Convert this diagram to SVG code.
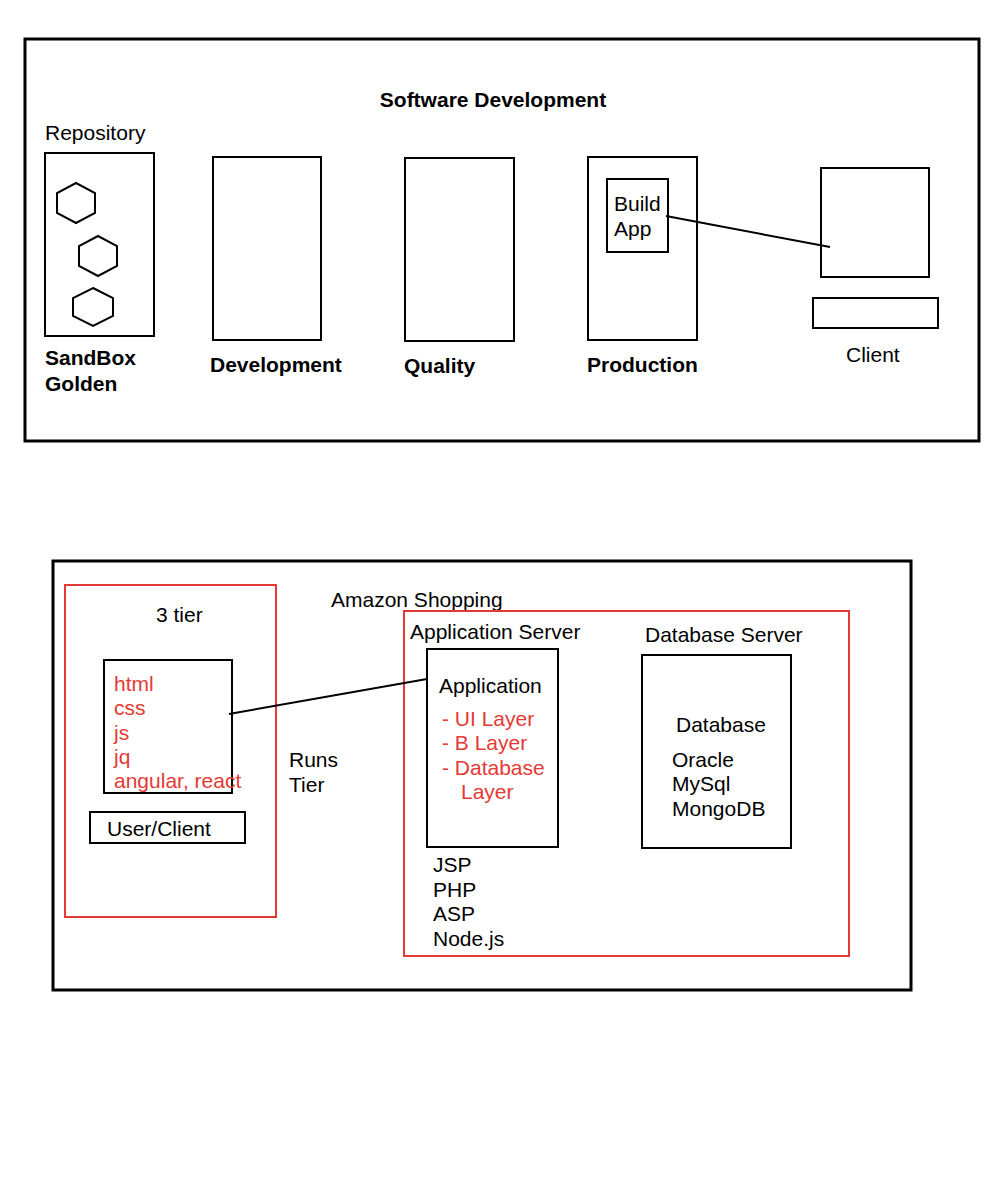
<svg xmlns="http://www.w3.org/2000/svg" width="1000" height="1184" viewBox="0 0 1000 1184">
<style>
text{font-family:"Liberation Sans",Arial,sans-serif;font-size:21px;fill:#000}
.b{font-weight:bold}
.r{fill:#e53935}
.box{fill:none;stroke:#000;stroke-width:2}
.frame{fill:none;stroke:#000;stroke-width:3}
.red{fill:none;stroke:#e53935;stroke-width:2}
.conn{stroke:#000;stroke-width:2;fill:none}
</style>
<rect width="1000" height="1184" fill="#fff"/>
<g id="frame-top">
<rect class="frame" x="25" y="39" width="954" height="402"/>
<text class="b" x="493" y="107" text-anchor="middle">Software Development</text>
</g>
<g id="repository">
<text x="45" y="140">Repository</text>
<rect class="box" x="45" y="153" width="109" height="183"/>
<polygon class="box" points="76,183 95,193 95,213 76,223 57,213 57,193"/>
<polygon class="box" points="98,236 117,246 117,266 98,276 79,266 79,246"/>
<polygon class="box" points="93,288 113,298 113,316 93,326 73,316 73,298"/>
<text class="b" x="45" y="365">SandBox</text>
<text class="b" x="45" y="391">Golden</text>
</g>
<g id="development">
<rect class="box" x="213" y="157" width="108" height="183"/>
<text class="b" x="210" y="372">Development</text>
</g>
<g id="quality">
<rect class="box" x="405" y="158" width="109" height="183"/>
<text class="b" x="404" y="373">Quality</text>
</g>
<g id="production">
<rect class="box" x="588" y="157" width="109" height="183"/>
<text class="b" x="587" y="372">Production</text>
</g>
<g id="build-app">
<rect class="box" x="607" y="179" width="61" height="73"/>
<text x="614" y="211">Build</text>
<text x="614" y="236">App</text>
</g>
<g id="client">
<rect class="box" x="821" y="168" width="108" height="109"/>
<rect class="box" x="813" y="298" width="125" height="30"/>
<text x="846" y="362">Client</text>
</g>
<g id="frame-bottom">
<rect class="frame" x="53" y="561" width="858" height="429"/>
<text x="331" y="607">Amazon Shopping</text>
</g>
<g id="tier-client">
<rect class="red" x="65" y="585" width="211" height="332"/>
<text x="156" y="622">3 tier</text>
</g>
<g id="frontend">
<rect class="box" x="104" y="660" width="128" height="133"/>
<text class="r" x="114" y="691">html</text>
<text class="r" x="114" y="715">css</text>
<text class="r" x="114" y="740">js</text>
<text class="r" x="114" y="764">jq</text>
<text class="r" x="114" y="788">angular, react</text>
</g>
<g id="user-client">
<rect class="box" x="90" y="812" width="155" height="31"/>
<text x="107" y="836">User/Client</text>
</g>
<g id="runs-tier">
<text x="289" y="767">Runs</text>
<text x="289" y="792">Tier</text>
</g>
<g id="app-server">
<rect class="red" x="404" y="611" width="445" height="345"/>
<text x="410" y="639">Application Server</text>
<text x="433" y="872">JSP</text>
<text x="433" y="897">PHP</text>
<text x="433" y="921">ASP</text>
<text x="433" y="946">Node.js</text>
</g>
<g id="application">
<rect class="box" x="427" y="649" width="131" height="198"/>
<text x="439" y="693">Application</text>
<text class="r" x="442" y="726">- UI Layer</text>
<text class="r" x="442" y="750">- B Layer</text>
<text class="r" x="442" y="775">- Database</text>
<text class="r" x="461" y="799">Layer</text>
</g>
<g id="db-server">
<text x="645" y="642">Database Server</text>
<rect class="box" x="642" y="655" width="149" height="193"/>
<text x="676" y="732">Database</text>
<text x="672" y="767">Oracle</text>
<text x="672" y="791">MySql</text>
<text x="672" y="816">MongoDB</text>
</g>
<g id="connectors">
<line class="conn" x1="666" y1="216" x2="830" y2="247"/>
<line class="conn" x1="229" y1="714" x2="427" y2="679"/>
</g>
</svg>
